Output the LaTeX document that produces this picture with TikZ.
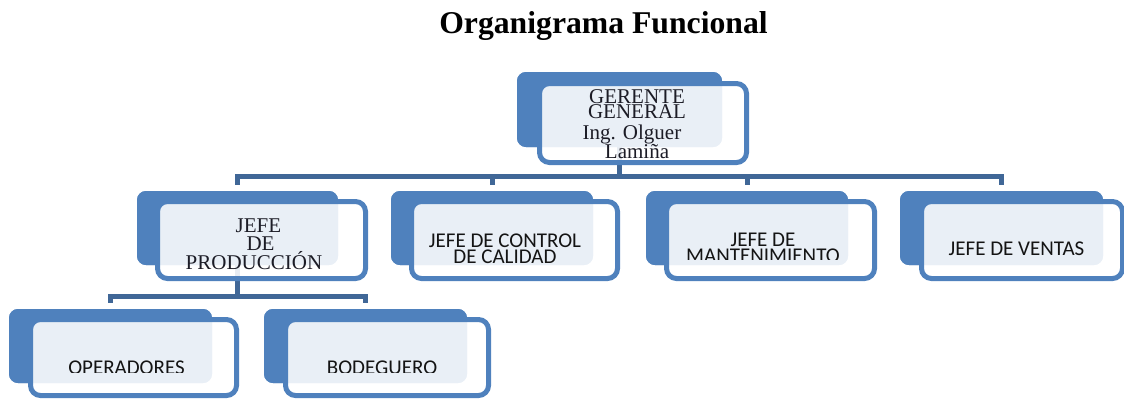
\documentclass[tikz,border=0pt]{standalone}
\usepackage{fontspec}
\setmainfont{Liberation Serif}
\newfontfamily\calfont{Carlito}
\usetikzlibrary{calc}
\definecolor{boxblue}{RGB}{79,129,189}
\definecolor{connblue}{RGB}{64,103,151}
\definecolor{serftxt}{RGB}{28,28,38}
\definecolor{sanstxt}{RGB}{20,20,20}
\begin{document}
\begin{tikzpicture}[x=1pt,y=-1pt,
  backbox/.style={fill=boxblue, draw=none, rounded corners=9pt, inner sep=0pt, outer sep=0pt, anchor=north west},
  frontbox/.style={draw=boxblue, line width=5pt, fill=white, fill opacity=0.88, rounded corners=10pt, inner sep=0pt, outer sep=0pt, anchor=north west},
  conn/.style={draw=connblue, line width=5pt},
  serif/.style={text=serftxt, align=center, inner sep=0pt, anchor=base},
  sans/.style={text=sanstxt, align=center, inner sep=0pt, anchor=base, font=\calfont\fontsize{21}{16}\selectfont}]
\useasboundingbox (0,0) rectangle (1124,400);

% title
\node[font=\bfseries\fontsize{31.7}{36}\selectfont, anchor=base, inner sep=0pt] (title) at (603.5,33) {Organigrama Funcional};

% back rectangles (named, used by connectors)
\node[backbox, minimum width=205pt, minimum height=75pt] (gg) at (517,72) {};
\node[backbox, minimum width=201pt, minimum height=74pt] (c1) at (137,191) {};
\node[backbox, minimum width=202pt, minimum height=74pt] (c2) at (391,191) {};
\node[backbox, minimum width=202pt, minimum height=74pt] (c3) at (646,191) {};
\node[backbox, minimum width=203pt, minimum height=74pt] (c4) at (900,191) {};
\node[backbox, minimum width=203pt, minimum height=74pt] (d1) at (9,309) {};
\node[backbox, minimum width=203pt, minimum height=74pt] (d2) at (264,309) {};

% connectors
\draw[conn, shorten >=6pt] (gg.south) -- ++(0,29) -| (c1.north);
\draw[conn, shorten >=6pt] (gg.south) -- ++(0,29) -| (c2.north);
\draw[conn, shorten >=6pt] (gg.south) -- ++(0,29) -| (c3.north);
\draw[conn, shorten >=6pt] (gg.south) -- ++(0,29) -| (c4.north);
\draw[conn, shorten >=6pt] (c1.south) -- ++(0,31) -| (d1.north);
\draw[conn, shorten >=6pt] (c1.south) -- ++(0,31) -| (d2.north);

% redraw back rectangles above connectors
\foreach \n in {gg,c1,c2,c3,c4,d1,d2} {
  \fill[boxblue, rounded corners=9pt] (\n.north west) rectangle (\n.south east);
}

% front boxes
\node[frontbox, minimum width=207pt, minimum height=79pt] (ggf) at (539.5,83.5) {};
\node[frontbox, minimum width=208pt, minimum height=77pt] (c1f) at (157.5,201.5) {};
\node[frontbox, minimum width=206pt, minimum height=77pt] (c2f) at (411.5,201.5) {};
\node[frontbox, minimum width=208pt, minimum height=77pt] (c3f) at (666.5,201.5) {};
\node[frontbox, minimum width=201pt, minimum height=77pt] (c4f) at (921.5,201.5) {};
\node[frontbox, minimum width=206pt, minimum height=76pt] (d1f) at (30.5,319.5) {};
\node[frontbox, minimum width=203pt, minimum height=76pt] (d2f) at (285.5,319.5) {};

% texts (anchor base = baseline of last line)
\node[serif, font=\fontsize{21}{15}\selectfont] (ggt) at (637,158) {GERENTE\\GENERAL\\[6pt]Ing. Olguer\rule{10pt}{0pt}\\[-1pt]Lami\~na};
\node[serif, font=\fontsize{21}{17}\selectfont] (c1t) at (254,269) {\hspace*{9pt}JEFE\\[1pt]\hspace*{13pt}DE\\[-1pt]PRODUCCIÓN};
\node[sans] (c2t) at (505,263) {JEFE DE CONTROL\\DE CALIDAD};
\begin{scope}
  \clip (0,0) rectangle (1124,259);
  \node[sans] (c3t) at (763,262) {JEFE DE\\MANTENIMIENTO};
\end{scope}
\node[sans] (c4t) at (1016.5,255) {JEFE DE VENTAS};
\begin{scope}
  \clip (0,0) rectangle (1124,372);
  \node[sans] (d1t) at (126.5,374.3) {OPERADORES};
  \node[sans] (d2t) at (382,374) {BODEGUERO};
\end{scope}
\end{tikzpicture}
\end{document}
